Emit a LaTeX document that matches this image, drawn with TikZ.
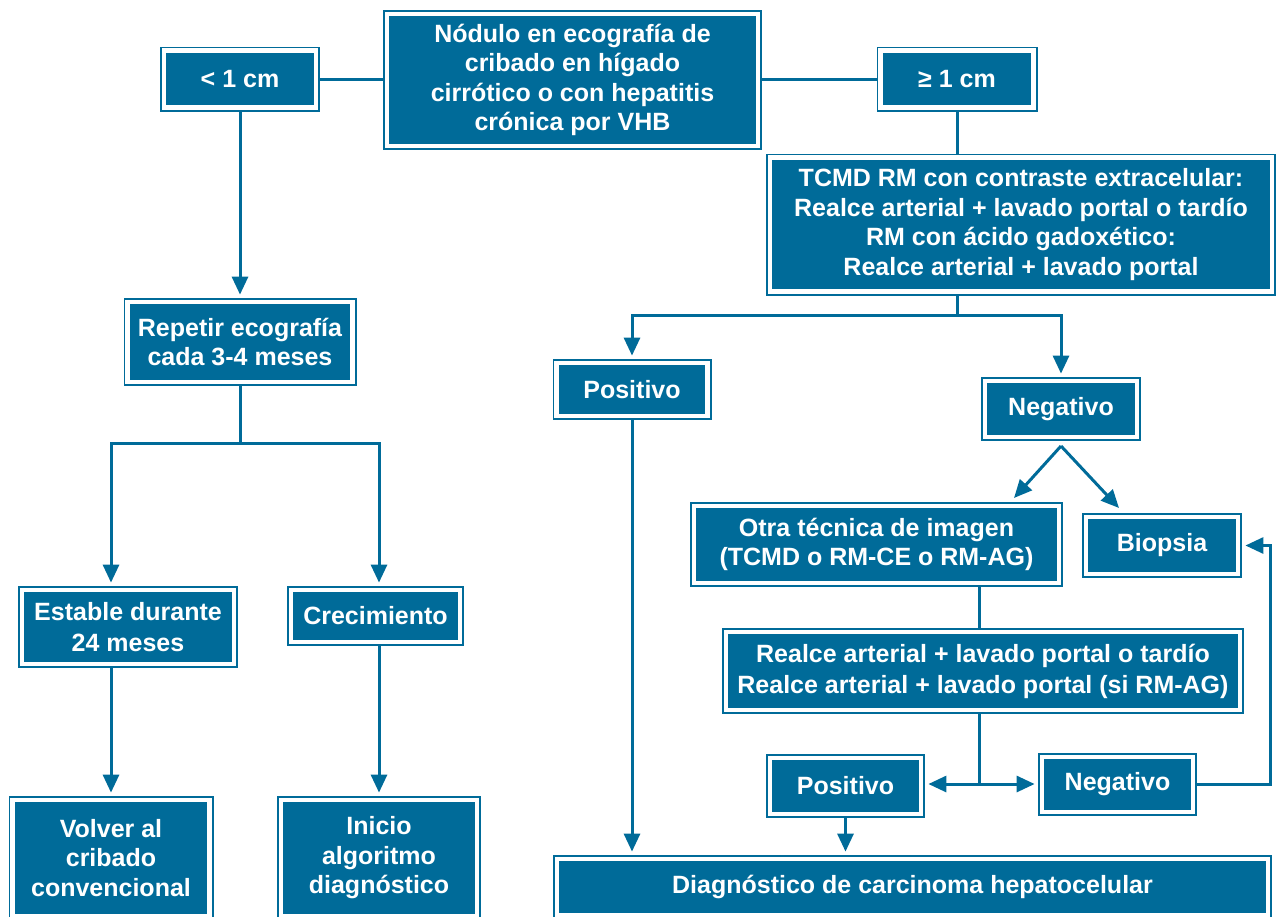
\documentclass[tikz,border=0pt]{standalone}
\usepackage{fontspec}
\setmainfont{Liberation Sans}
\usetikzlibrary{arrows.meta,backgrounds}
\definecolor{cb}{RGB}{0,107,153}
\begin{document}
\begin{tikzpicture}[x=1pt,y=-1pt,
  box/.style={fill=cb, draw=cb, double=white, double distance=4.4pt, line width=1.8pt,
    text=white, font=\bfseries\fontsize{25}{29.5}\selectfont, align=center, inner sep=0pt},
  conn/.style={draw=cb, line width=3pt},
  arr/.style={conn, -{Triangle[length=18pt,width=16pt]}, shorten >=6.5pt},
  arrfree/.style={conn, -{Triangle[length=18pt,width=16pt]}}]
\clip (0,0) rectangle (1277,916);
\useasboundingbox (0,0) rectangle (1277,916);

\node[box, minimum width=371pt, minimum height=132pt] (nod) at (572.5,80) {Nódulo en ecografía de\\cribado en hígado\\cirrótico o con hepatitis\\crónica por VHB};
\node[box, minimum width=152pt, minimum height=57pt] (lt) at (240,79) {< 1 cm};
\node[box, minimum width=153pt, minimum height=57pt] (ge) at (957,79) {≥ 1 cm};
\node[box, minimum width=502pt, minimum height=134pt] (tc) at (1021,224.5) {TCMD RM con contraste extracelular:\\Realce arterial + lavado portal o tardío\\RM con ácido gadoxético:\\Realce arterial + lavado portal};
\node[box, minimum width=225pt, minimum height=80pt] (rep) at (240,342) {Repetir ecografía\\cada 3-4 meses};
\node[box, minimum width=151pt, minimum height=53pt] (pos1) at (632,389.5) {Positivo};
\node[box, minimum width=152pt, minimum height=56pt] (neg1) at (1061,409) {Negativo};
\node[box, minimum width=365pt, minimum height=77pt] (otra) at (876.5,544.5) {Otra técnica de imagen\\(TCMD o RM-CE o RM-AG)};
\node[box, minimum width=152pt, minimum height=57pt] (bio) at (1162,545.5) {Biopsia};
\node[box, minimum width=514pt, minimum height=78pt, font=\bfseries\fontsize{25}{31}\selectfont] (real) at (983,671) {Realce arterial + lavado portal o tardío\\Realce arterial + lavado portal (si RM-AG)};
\node[box, minimum width=212pt, minimum height=74pt, font=\bfseries\fontsize{25}{31}\selectfont] (est) at (128,627) {Estable durante\\24 meses};
\node[box, minimum width=169pt, minimum height=52pt] (cre) at (375.5,616) {Crecimiento};
\node[box, minimum width=151pt, minimum height=56pt] (pos2) at (845.5,786) {Positivo};
\node[box, minimum width=151pt, minimum height=55pt] (neg2) at (1117.5,784.5) {Negativo};
\node[box, minimum width=197pt, minimum height=116pt] (vol) at (111,858) {Volver al\\cribado\\convencional};
\node[box, minimum width=196pt, minimum height=116pt] (ino) at (379,858) {Inicio\\algoritmo\\diagnóstico};
\node[box, minimum width=711pt, minimum height=56pt] (diag) at (912.5,887) {Diagnóstico de carcinoma hepatocelular};

\coordinate (j1) at (240,443);
\coordinate (j2) at (957,315);
\coordinate (apex) at (1061,446);
\coordinate (ta) at (1014,498);
\coordinate (tb) at (1119,508);
\coordinate (j3) at (979,784);

\begin{scope}[on background layer]
\draw[conn] (lt.east) -- (lt.east -| nod.west);
\draw[conn] (ge.west) -- (ge.west -| nod.east);
\draw[arr] (lt.south) -- (rep.north);
\draw[conn] (ge.south) -- (ge.south |- tc.north);
\draw[conn] (tc.south -| j2) -- (j2);
\draw[arr] (j2) -| (pos1.north);
\draw[arr] (j2) -| (neg1.north);
\draw[conn] (rep.south) -- (j1);
\draw[arr] (j1) -| (est.north -| vol.north);
\draw[arr] (j1) -| (cre.north -| ino.north);
\draw[arr] (est.south -| vol.north) -- (vol.north);
\draw[arr] (cre.south -| ino.north) -- (ino.north);
\draw[arr] (pos1.south) -- (pos1.south |- diag.north);
\draw[arrfree] (apex) -- (ta);
\draw[arrfree] (apex) -- (tb);
\draw[conn] (otra.south -| j3) -- (real.north -| j3);
\draw[conn] (real.south -| j3) -- (j3);
\draw[arr] (j3) -- (j3 -| pos2.east);
\draw[arr] (j3) -- (j3 -| neg2.west);
\draw[arr] (neg2.east) -| ([xshift=32pt]bio.east) -- (bio.east);
\draw[arr] (pos2.south) -- (pos2.south |- diag.north);
\end{scope}
\end{tikzpicture}
\end{document}
